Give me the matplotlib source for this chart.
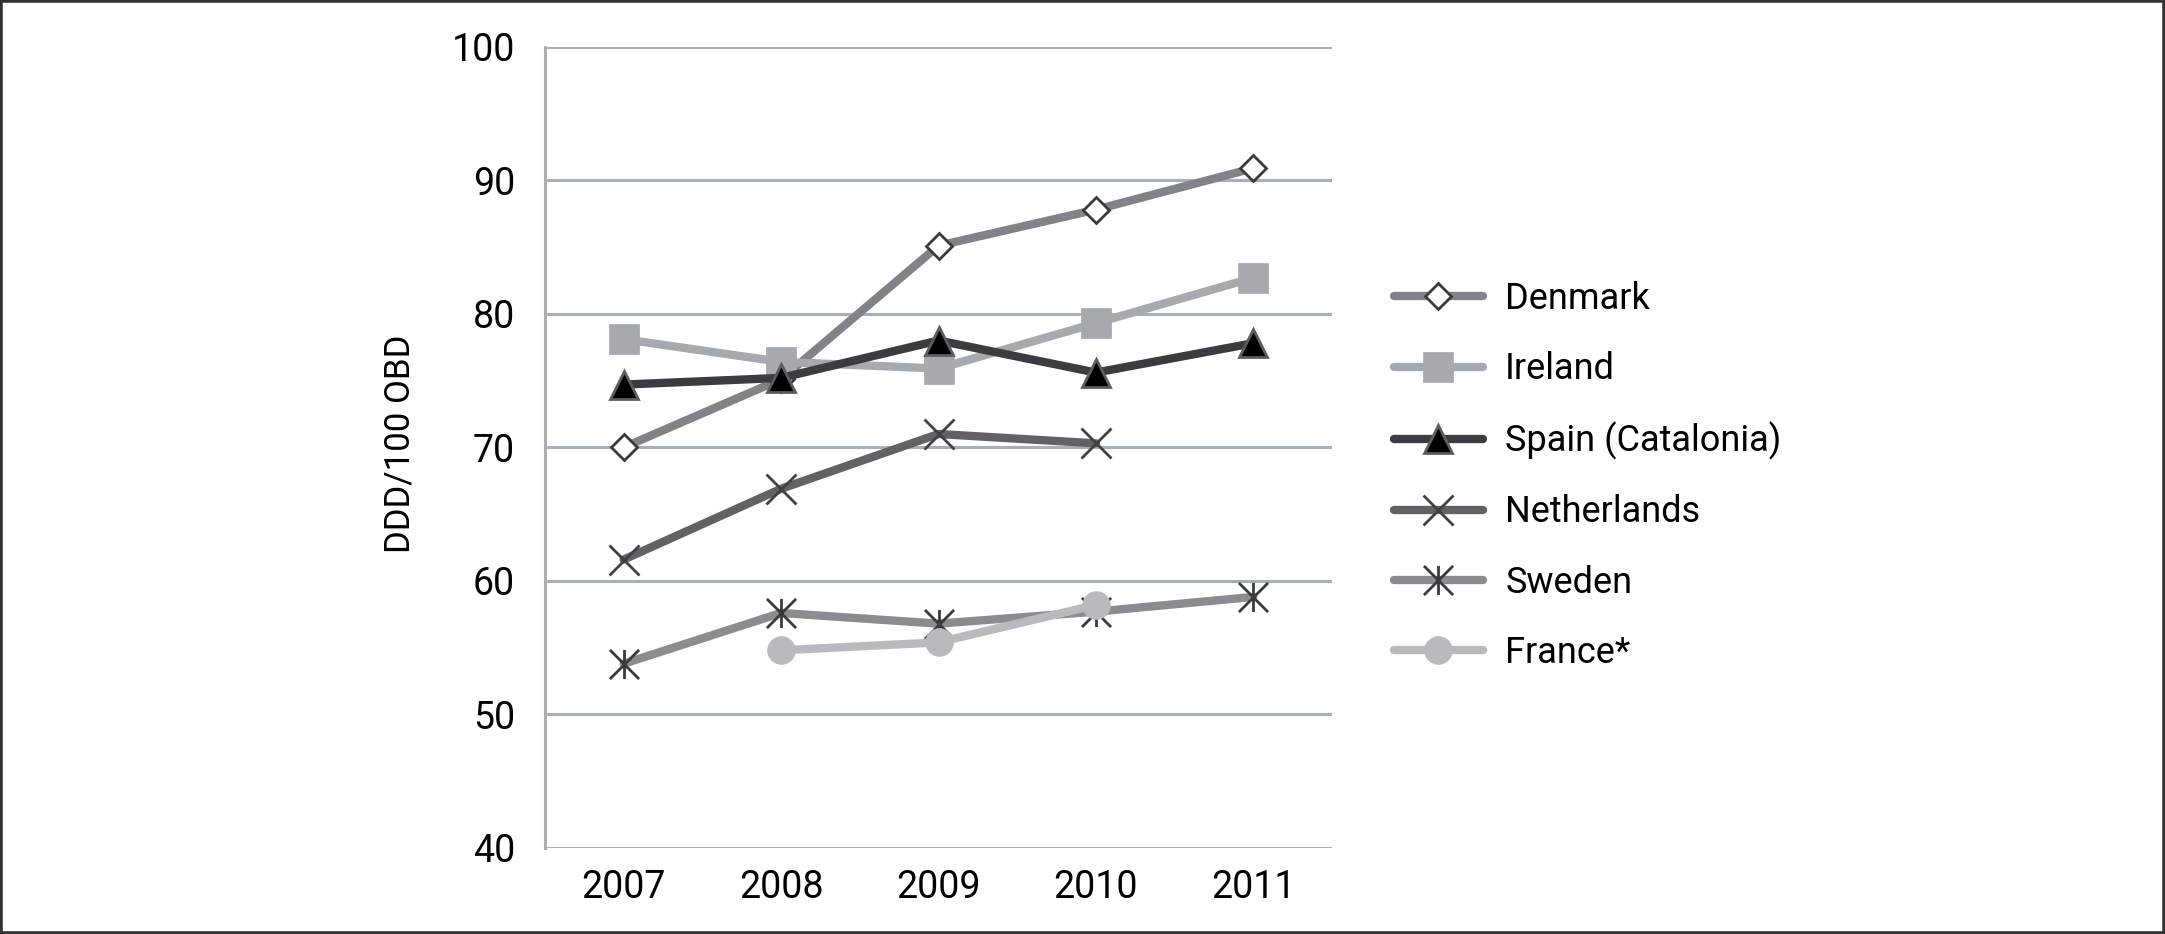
import matplotlib
matplotlib.use("Agg")
import matplotlib.pyplot as plt
import numpy as np
from matplotlib.path import Path
from matplotlib.patches import Rectangle

years = ["2007", "2008", "2009", "2010", "2011"]
denmark = [70.0, 75.1, 85.1, 87.8, 90.9]
ireland = [78.1, 76.4, 75.9, 79.3, 82.7]
spain = [74.7, 75.2, 78.0, 75.6, 77.8]
netherlands = [61.6, 66.9, 71.0, 70.3, np.nan]
sweden = [53.8, 57.6, 56.8, 57.7, 58.8]
france = [np.nan, 54.8, 55.4, 58.2, np.nan]
yticks = [40, 50, 60, 70, 80, 90, 100]

plt.rcParams['font.family'] = ['Roboto', 'DejaVu Sans']

W, H = 2165, 934
fig = plt.figure(figsize=(W / 100, H / 100), dpi=100)
ax = fig.add_axes([545 / W, 1 - 848 / H, (1332 - 545) / W, (848 - 46.7) / H])

x = np.arange(len(years)) + 0.5

ast = Path([(0, -1), (0, 1), (-1, -1), (1, 1), (-1, 1), (1, -1)],
           [Path.MOVETO, Path.LINETO, Path.MOVETO, Path.LINETO, Path.MOVETO, Path.LINETO])

lw = 6.0
series = [
    ("Denmark", denmark, dict(color="#818388", marker="D", markersize=13.5,
                              markerfacecolor="white", markeredgecolor="#3a3a3c", markeredgewidth=2.0)),
    ("Ireland", ireland, dict(color="#a6a9ad", marker="s", markersize=21,
                              markerfacecolor="#a6a9ad", markeredgecolor="#a6a9ad", markeredgewidth=0.5)),
    ("Spain (Catalonia)", spain, dict(color="#3b3c3f", marker="^", markersize=20,
                                      markerfacecolor="black", markeredgecolor="#5c5d60", markeredgewidth=2.0)),
    ("Netherlands", netherlands, dict(color="#616266", marker="x", markersize=21,
                                      markeredgecolor="#404144", markeredgewidth=2.0)),
    ("Sweden", sweden, dict(color="#8b8c90", marker=ast, markersize=21,
                            markeredgecolor="#3a3a3c", markeredgewidth=2.0)),
    ("France*", france, dict(color="#b8babd", marker="o", markersize=20,
                             markerfacecolor="#b8babd", markeredgecolor="#b8babd", markeredgewidth=0.5)),
]
for name, vals, kw in series:
    ax.plot(x, vals, label=name, linewidth=lw, solid_capstyle="round",
            solid_joinstyle="round", clip_on=False, **kw)

ax.set_xlim(0, len(years))
ax.set_ylim(40, 100)
ax.set_yticks(yticks)
ax.set_xticks(x)
ax.set_xticklabels(years)
ax.grid(axis="y", color="#a9afb5", linewidth=2.2)
ax.set_axisbelow(True)
for s in ["top", "right", "bottom"]:
    ax.spines[s].set_visible(False)
ax.spines["left"].set_color("#a9afb5")
ax.spines["left"].set_linewidth(2.2)
ax.tick_params(axis="both", length=0, labelsize=27, colors="black")
ax.tick_params(axis="y", pad=21.5)
ax.tick_params(axis="x", pad=15)
ax.set_ylabel("DDD/100 OBD", fontsize=25)
ax.yaxis.set_label_coords(-0.163, 0.505)

leg = fig.legend(loc="center left", bbox_to_anchor=(1394 / W, 1 - 476 / H),
                 frameon=False, fontsize=26, handlelength=2.46, handletextpad=0.62,
                 labelspacing=0.95, borderpad=0, borderaxespad=0)

fig.patches.append(Rectangle((0, 0), 1, 1, transform=fig.transFigure, fill=False,
                             edgecolor="#333333", linewidth=4, zorder=10))

fig.savefig("out.png", dpi=100)
